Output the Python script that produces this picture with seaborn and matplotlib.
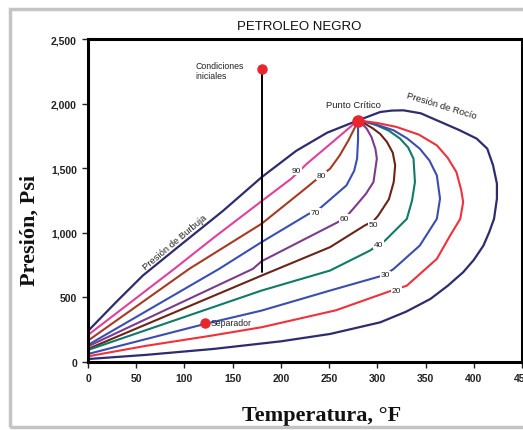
import matplotlib
matplotlib.use("Agg")
import matplotlib.pyplot as plt
import seaborn as sns
from matplotlib.patches import Rectangle

# phase envelope: bubble point curve up to the critical point, then the dew point curve back down
env_t = [0, 30, 57, 95, 140, 180, 216, 248, 280, 303, 315, 327, 345, 365, 385, 403, 414, 420, 424, 424,
         421, 416, 410, 400, 389, 373, 355, 330, 303, 251, 200, 130, 60, 0]
env_p = [240, 470, 670, 900, 1170, 1430, 1635, 1775, 1870, 1935, 1946, 1948, 1925, 1860, 1795, 1729, 1651, 1522, 1380, 1264,
         1108, 1005, 901, 790, 695, 590, 488, 390, 307, 217, 160, 101, 55, 23]

# quality lines (% liquid)
q90_t = [0, 89.5, 130, 180, 211, 227, 250, 265, 276, 280]
q90_p = [209, 721, 960, 1245, 1420, 1535, 1680, 1775, 1845, 1870]
q80_t = [0, 105, 180, 225, 242, 251, 261, 270, 277, 280]
q80_p = [165, 721, 1070, 1340, 1444, 1496, 1599, 1715, 1819, 1870]
q70_t = [0, 136, 180, 229, 236, 244, 268, 276, 279, 280, 280]
q70_p = [132, 721, 928, 1147, 1160, 1212, 1367, 1480, 1574, 1720, 1870]
q60_t = [0, 171, 180, 266, 275, 288, 296, 299.5, 298, 294, 289, 284, 280]
q60_p = [121, 721, 780, 1109, 1186, 1300, 1393, 1574, 1650, 1740, 1806, 1845, 1870]
q50_t = [0, 180, 251, 287, 296, 301, 312, 317, 318.5, 316, 310, 303, 295, 287, 280]
q50_p = [101, 669, 889, 1057, 1090, 1134, 1260, 1393, 1522, 1620, 1703, 1765, 1810, 1845, 1870]
q40_t = [0, 180, 251, 292.5, 301, 308, 330.6, 336, 339, 337.5, 332, 323.6, 312, 300, 290, 280]
q40_p = [93, 553, 708, 863, 907, 940, 1108, 1250, 1393, 1574, 1660, 1729, 1790, 1830, 1855, 1870]
q30_t = [0, 121, 180, 251, 299.5, 308, 317, 344, 361.7, 365, 361.7, 354, 344, 331, 317, 298, 280]
q30_p = [62, 294, 398, 553, 656, 674, 721, 901, 1108, 1264, 1444, 1560, 1651, 1730, 1793, 1840, 1870]
q20_t = [0, 60, 128, 180, 257, 310, 330.6, 361.7, 375.5, 386, 389, 387, 382, 373, 361.7, 343, 320, 300, 280]
q20_p = [44, 125, 204, 269, 400, 540, 591, 798, 979, 1108, 1238, 1330, 1470, 1580, 1677, 1760, 1819, 1850, 1870]

quality_labels = ["90", "80", "70", "60", "50", "40", "30", "20"]
label_t = [216, 242, 236, 266, 296, 301, 308, 320]
label_p = [1480, 1444, 1155, 1109, 1062, 907, 674, 553]

# special points
crit_t, crit_p = 280, 1868
init_t, init_p, init_end_p = 180, 2265, 700
sep_t, sep_p = 121, 300

sns.set_style("white")
plt.rcParams["font.family"] = ["Liberation Sans", "DejaVu Sans"]

fig = plt.figure(figsize=(5.23, 4.31), dpi=100)
ax = fig.add_axes([88 / 523, 68 / 431, 434 / 523, 323 / 431])

navy = "#2E2C6E"
curves = [
    (q90_t, q90_p, "#E0409A"),
    (q80_t, q80_p, "#A63A24"),
    (q70_t, q70_p, "#3A4FB5"),
    (q60_t, q60_p, "#7B3C8C"),
    (q50_t, q50_p, "#6A2418"),
    (q40_t, q40_p, "#0F7A66"),
    (q30_t, q30_p, "#3B4DAE"),
    (q20_t, q20_p, "#F0303A"),
]
for t, p, c in curves:
    sns.lineplot(x=t, y=p, sort=False, estimator=None, color=c, linewidth=1.5, ax=ax)
sns.lineplot(x=env_t, y=env_p, sort=False, estimator=None, color=navy, linewidth=1.6, ax=ax)

# quality labels sit on the lines, white box makes the gap
for lab, t, p in zip(quality_labels, label_t, label_p):
    ax.text(t, p, lab, fontsize=6, ha="center", va="center", color="#222222",
            bbox=dict(facecolor="white", edgecolor="none", pad=0.6), zorder=5)

# initial conditions and isothermal depletion line
ax.plot([init_t, init_t], [init_p, init_end_p], color="black", linewidth=1.4, zorder=4)
ax.plot(init_t, init_p, "o", color="#E8262F", markersize=6.5, zorder=6)
ax.text(111, 2256, "Condiciones\niniciales", fontsize=6.3, ha="left", va="center", color="#222222")

ax.plot(crit_t, crit_p, "o", color="#E8262F", markersize=8, zorder=6)
ax.text(275, 1992, "Punto Crítico", fontsize=6.8, ha="center", va="center", color="#222222")

ax.plot(sep_t, sep_p, "o", color="#E8262F", markersize=6.5, zorder=6)
ax.text(127, 305, "Separador", fontsize=6.3, ha="left", va="center", color="#222222")

ax.text(366, 1990, "Presión de Rocío", fontsize=6.8, rotation=-17, ha="center", va="center", color="#222222")
ax.text(90, 930, "Presión de Burbuja", fontsize=6.8, rotation=40, ha="center", va="center", color="#222222")

ax.set_xlim(0, 450)
ax.set_ylim(0, 2500)
ax.set_xticks(range(0, 451, 50))
ax.set_yticks(range(0, 2501, 500))
ax.set_yticklabels([f"{v:,}" for v in range(0, 2501, 500)])
ax.tick_params(axis="both", labelsize=7.5, length=4, width=1, direction="out", colors="#222222",
               bottom=True, left=True, pad=4)
for lbl in ax.get_xticklabels() + ax.get_yticklabels():
    lbl.set_fontweight("bold")
for s in ax.spines.values():
    s.set_linewidth(2.2)
    s.set_color("black")

fig.text(299 / 523, 1 - 27 / 431, "PETROLEO NEGRO", fontsize=9.5, ha="center", va="center", color="#111111")
fig.text(30 / 523, 1 - 230 / 431, "Presión, Psi", fontsize=16, fontweight="bold", family="Liberation Serif",
         rotation=90, ha="center", va="center", color="#111111")
fig.text(322 / 523, 1 - 416 / 431, "Temperatura, °F", fontsize=16, fontweight="bold", family="Liberation Serif",
         ha="center", va="center", color="#111111")

# light grey picture frame
fig.patches.append(Rectangle((10 / 523, 3 / 431), 520 / 523, 418 / 431, transform=fig.transFigure,
                             fill=False, edgecolor="#C4C4C4", linewidth=2.5, zorder=10))

fig.savefig("out.png", dpi=100)
